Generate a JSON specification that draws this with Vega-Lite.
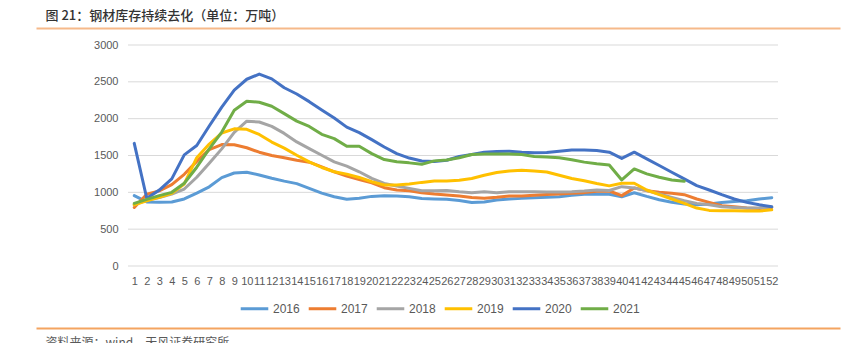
{
  "$schema": "https://vega.github.io/schema/vega-lite/v6.json",
  "width": 804,
  "height": 221,
  "autosize": {"type": "none"},
  "padding": {"left": 36, "top": 45, "right": 18, "bottom": 77},
  "background": "white",
  "config": {"view": {"stroke": null}, "font": "Liberation Sans"},
  "resolve": {"axis": {"x": "independent", "y": "independent"}},
  "layer": [
    {
      "data": {"values": [{"g": 500}, {"g": 1000}, {"g": 1500}, {"g": 2000}, {"g": 2500}, {"g": 3000}]},
      "mark": {"type": "rule", "color": "#D9D9D9", "strokeWidth": 1},
      "encoding": {
        "x": {"datum": 0.5, "type": "quantitative", "scale": {"domain": [-6.86, 57.46], "nice": false, "zero": false},
          "axis": {"orient": "bottom", "values": [1,2,3,4,5,6,7,8,9,10,11,12,13,14,15,16,17,18,19,20,21,22,23,24,25,26,27,28,29,30,31,32,33,34,35,36,37,38,39,40,41,42,43,44,45,46,47,48,49,50,51,52],
            "format": "d", "labelFontSize": 11, "labelColor": "#595959", "labelPadding": 9, "domain": false, "ticks": false, "tickSize": 0, "grid": false, "labelOverlap": false, "labelFlush": false, "title": null, "labelFont": "Liberation Sans"}},
        "x2": {"datum": 52.5},
        "y": {"field": "g", "type": "quantitative", "scale": {"domain": [0, 3000], "nice": false, "zero": true},
          "axis": {"orient": "left", "offset": -92, "values": [0, 500, 1000, 1500, 2000, 2500, 3000], "format": "d", "domain": false, "ticks": false, "tickSize": 0, "grid": false, "labelPadding": 10, "labelFontSize": 11, "labelColor": "#595959", "labelFont": "Liberation Sans", "labelFlush": false, "labelOverlap": false, "title": null}}
      }
    },
    {
      "data": {"values": [{"g": 0}]},
      "mark": {"type": "rule", "color": "#D9D9D9", "strokeWidth": 1},
      "encoding": {
        "x": {"datum": 0.5, "type": "quantitative", "scale": {"domain": [-6.86, 57.46], "nice": false, "zero": false},
          "axis": {"orient": "top", "offset": 17, "domainColor": "#F6B98A", "domainWidth": 2, "ticks": false, "labels": false, "grid": false,
            "title": "图 21：钢材库存持续去化（单位：万吨）", "titleX": 9, "titleY": -13, "titleAlign": "left", "titleBaseline": "middle",
            "titleFont": "Noto Sans CJK SC", "titleFontSize": 13, "titleFontWeight": 500, "titleColor": "#333333"}},
        "x2": {"datum": 52.5},
        "y": {"field": "g", "type": "quantitative", "scale": {"domain": [0, 3000], "nice": false, "zero": true}, "axis": null}
      }
    },
    {
      "data": {"values": [
        {"w":1,"y":"2016","v":955},{"w":2,"y":"2016","v":870},{"w":3,"y":"2016","v":864},{"w":4,"y":"2016","v":868},{"w":5,"y":"2016","v":910},{"w":6,"y":"2016","v":990},{"w":7,"y":"2016","v":1075},{"w":8,"y":"2016","v":1200},{"w":9,"y":"2016","v":1262},{"w":10,"y":"2016","v":1273},
        {"w":11,"y":"2016","v":1236},{"w":12,"y":"2016","v":1192},{"w":13,"y":"2016","v":1152},{"w":14,"y":"2016","v":1118},{"w":15,"y":"2016","v":1054},{"w":16,"y":"2016","v":990},{"w":17,"y":"2016","v":940},{"w":18,"y":"2016","v":905},{"w":19,"y":"2016","v":920},{"w":20,"y":"2016","v":945},
        {"w":21,"y":"2016","v":955},{"w":22,"y":"2016","v":950},{"w":23,"y":"2016","v":941},{"w":24,"y":"2016","v":915},{"w":25,"y":"2016","v":910},{"w":26,"y":"2016","v":905},{"w":27,"y":"2016","v":888},{"w":28,"y":"2016","v":862},{"w":29,"y":"2016","v":870},{"w":30,"y":"2016","v":895},
        {"w":31,"y":"2016","v":908},{"w":32,"y":"2016","v":918},{"w":33,"y":"2016","v":928},{"w":34,"y":"2016","v":932},{"w":35,"y":"2016","v":941},{"w":36,"y":"2016","v":959},{"w":37,"y":"2016","v":975},{"w":38,"y":"2016","v":977},{"w":39,"y":"2016","v":973},{"w":40,"y":"2016","v":940},
        {"w":41,"y":"2016","v":995},{"w":42,"y":"2016","v":945},{"w":43,"y":"2016","v":900},{"w":44,"y":"2016","v":866},{"w":45,"y":"2016","v":842},{"w":46,"y":"2016","v":832},{"w":47,"y":"2016","v":841},{"w":48,"y":"2016","v":862},{"w":49,"y":"2016","v":877},{"w":50,"y":"2016","v":886},{"w":51,"y":"2016","v":909},{"w":52,"y":"2016","v":928},

        {"w":1,"y":"2017","v":795},{"w":2,"y":"2017","v":975},{"w":3,"y":"2017","v":1020},{"w":4,"y":"2017","v":1105},{"w":5,"y":"2017","v":1245},{"w":6,"y":"2017","v":1420},{"w":7,"y":"2017","v":1580},{"w":8,"y":"2017","v":1648},{"w":9,"y":"2017","v":1645},{"w":10,"y":"2017","v":1605},
        {"w":11,"y":"2017","v":1545},{"w":12,"y":"2017","v":1500},{"w":13,"y":"2017","v":1470},{"w":14,"y":"2017","v":1436},{"w":15,"y":"2017","v":1409},{"w":16,"y":"2017","v":1346},{"w":17,"y":"2017","v":1279},{"w":18,"y":"2017","v":1220},{"w":19,"y":"2017","v":1175},{"w":20,"y":"2017","v":1130},
        {"w":21,"y":"2017","v":1063},{"w":22,"y":"2017","v":1031},{"w":23,"y":"2017","v":1022},{"w":24,"y":"2017","v":995},{"w":25,"y":"2017","v":977},{"w":26,"y":"2017","v":964},{"w":27,"y":"2017","v":950},{"w":28,"y":"2017","v":930},{"w":29,"y":"2017","v":920},{"w":30,"y":"2017","v":932},
        {"w":31,"y":"2017","v":950},{"w":32,"y":"2017","v":950},{"w":33,"y":"2017","v":962},{"w":34,"y":"2017","v":972},{"w":35,"y":"2017","v":978},{"w":36,"y":"2017","v":986},{"w":37,"y":"2017","v":996},{"w":38,"y":"2017","v":1015},{"w":39,"y":"2017","v":1018},{"w":40,"y":"2017","v":955},
        {"w":41,"y":"2017","v":1059},{"w":42,"y":"2017","v":1023},{"w":43,"y":"2017","v":1000},{"w":44,"y":"2017","v":986},{"w":45,"y":"2017","v":968},{"w":46,"y":"2017","v":909},{"w":47,"y":"2017","v":864},{"w":48,"y":"2017","v":818},{"w":49,"y":"2017","v":805},{"w":50,"y":"2017","v":786},{"w":51,"y":"2017","v":782},{"w":52,"y":"2017","v":795},

        {"w":1,"y":"2018","v":830},{"w":2,"y":"2018","v":895},{"w":3,"y":"2018","v":930},{"w":4,"y":"2018","v":977},{"w":5,"y":"2018","v":1045},{"w":6,"y":"2018","v":1205},{"w":7,"y":"2018","v":1395},{"w":8,"y":"2018","v":1590},{"w":9,"y":"2018","v":1815},{"w":10,"y":"2018","v":1965},
        {"w":11,"y":"2018","v":1955},{"w":12,"y":"2018","v":1895},{"w":13,"y":"2018","v":1800},{"w":14,"y":"2018","v":1684},{"w":15,"y":"2018","v":1594},{"w":16,"y":"2018","v":1504},{"w":17,"y":"2018","v":1414},{"w":18,"y":"2018","v":1355},{"w":19,"y":"2018","v":1279},{"w":20,"y":"2018","v":1189},
        {"w":21,"y":"2018","v":1121},{"w":22,"y":"2018","v":1085},{"w":23,"y":"2018","v":1054},{"w":24,"y":"2018","v":1022},{"w":25,"y":"2018","v":1022},{"w":26,"y":"2018","v":1025},{"w":27,"y":"2018","v":1008},{"w":28,"y":"2018","v":995},{"w":29,"y":"2018","v":1008},{"w":30,"y":"2018","v":995},
        {"w":31,"y":"2018","v":1008},{"w":32,"y":"2018","v":1008},{"w":33,"y":"2018","v":1008},{"w":34,"y":"2018","v":1004},{"w":35,"y":"2018","v":1004},{"w":36,"y":"2018","v":1008},{"w":37,"y":"2018","v":1017},{"w":38,"y":"2018","v":1031},{"w":39,"y":"2018","v":1025},{"w":40,"y":"2018","v":1077},
        {"w":41,"y":"2018","v":1059},{"w":42,"y":"2018","v":1023},{"w":43,"y":"2018","v":977},{"w":44,"y":"2018","v":932},{"w":45,"y":"2018","v":886},{"w":46,"y":"2018","v":850},{"w":47,"y":"2018","v":832},{"w":48,"y":"2018","v":805},{"w":49,"y":"2018","v":795},{"w":50,"y":"2018","v":786},{"w":51,"y":"2018","v":790},{"w":52,"y":"2018","v":800},

        {"w":1,"y":"2019","v":832},{"w":2,"y":"2019","v":886},{"w":3,"y":"2019","v":932},{"w":4,"y":"2019","v":986},{"w":5,"y":"2019","v":1114},{"w":6,"y":"2019","v":1470},{"w":7,"y":"2019","v":1655},{"w":8,"y":"2019","v":1805},{"w":9,"y":"2019","v":1862},{"w":10,"y":"2019","v":1855},
        {"w":11,"y":"2019","v":1786},{"w":12,"y":"2019","v":1682},{"w":13,"y":"2019","v":1600},{"w":14,"y":"2019","v":1504},{"w":15,"y":"2019","v":1414},{"w":16,"y":"2019","v":1337},{"w":17,"y":"2019","v":1279},{"w":18,"y":"2019","v":1247},{"w":19,"y":"2019","v":1202},{"w":20,"y":"2019","v":1144},
        {"w":21,"y":"2019","v":1099},{"w":22,"y":"2019","v":1099},{"w":23,"y":"2019","v":1112},{"w":24,"y":"2019","v":1135},{"w":25,"y":"2019","v":1153},{"w":26,"y":"2019","v":1155},{"w":27,"y":"2019","v":1165},{"w":28,"y":"2019","v":1187},{"w":29,"y":"2019","v":1232},{"w":30,"y":"2019","v":1268},
        {"w":31,"y":"2019","v":1290},{"w":32,"y":"2019","v":1299},{"w":33,"y":"2019","v":1290},{"w":34,"y":"2019","v":1277},{"w":35,"y":"2019","v":1232},{"w":36,"y":"2019","v":1187},{"w":37,"y":"2019","v":1156},{"w":38,"y":"2019","v":1120},{"w":39,"y":"2019","v":1088},{"w":40,"y":"2019","v":1123},
        {"w":41,"y":"2019","v":1123},{"w":42,"y":"2019","v":1032},{"w":43,"y":"2019","v":968},{"w":44,"y":"2019","v":909},{"w":45,"y":"2019","v":850},{"w":46,"y":"2019","v":786},{"w":47,"y":"2019","v":755},{"w":48,"y":"2019","v":750},{"w":49,"y":"2019","v":750},{"w":50,"y":"2019","v":745},{"w":51,"y":"2019","v":745},{"w":52,"y":"2019","v":762},

        {"w":1,"y":"2020","v":1665},{"w":2,"y":"2020","v":920},{"w":3,"y":"2020","v":1030},{"w":4,"y":"2020","v":1182},{"w":5,"y":"2020","v":1508},{"w":6,"y":"2020","v":1635},{"w":7,"y":"2020","v":1900},{"w":8,"y":"2020","v":2157},{"w":9,"y":"2020","v":2388},{"w":10,"y":"2020","v":2535},
        {"w":11,"y":"2020","v":2605},{"w":12,"y":"2020","v":2540},{"w":13,"y":"2020","v":2420},{"w":14,"y":"2020","v":2335},{"w":15,"y":"2020","v":2231},{"w":16,"y":"2020","v":2118},{"w":17,"y":"2020","v":2010},{"w":18,"y":"2020","v":1885},{"w":19,"y":"2020","v":1810},{"w":20,"y":"2020","v":1715},
        {"w":21,"y":"2020","v":1615},{"w":22,"y":"2020","v":1526},{"w":23,"y":"2020","v":1465},{"w":24,"y":"2020","v":1425},{"w":25,"y":"2020","v":1420},{"w":26,"y":"2020","v":1436},{"w":27,"y":"2020","v":1487},{"w":28,"y":"2020","v":1513},{"w":29,"y":"2020","v":1545},{"w":30,"y":"2020","v":1554},
        {"w":31,"y":"2020","v":1558},{"w":32,"y":"2020","v":1545},{"w":33,"y":"2020","v":1536},{"w":34,"y":"2020","v":1540},{"w":35,"y":"2020","v":1558},{"w":36,"y":"2020","v":1576},{"w":37,"y":"2020","v":1576},{"w":38,"y":"2020","v":1567},{"w":39,"y":"2020","v":1545},{"w":40,"y":"2020","v":1460},
        {"w":41,"y":"2020","v":1545},{"w":42,"y":"2020","v":1455},{"w":43,"y":"2020","v":1364},{"w":44,"y":"2020","v":1273},{"w":45,"y":"2020","v":1182},{"w":46,"y":"2020","v":1091},{"w":47,"y":"2020","v":1032},{"w":48,"y":"2020","v":968},{"w":49,"y":"2020","v":909},{"w":50,"y":"2020","v":864},{"w":51,"y":"2020","v":832},{"w":52,"y":"2020","v":805},

        {"w":1,"y":"2021","v":850},{"w":2,"y":"2021","v":905},{"w":3,"y":"2021","v":955},{"w":4,"y":"2021","v":1000},{"w":5,"y":"2021","v":1123},{"w":6,"y":"2021","v":1341},{"w":7,"y":"2021","v":1591},{"w":8,"y":"2021","v":1818},{"w":9,"y":"2021","v":2114},{"w":10,"y":"2021","v":2236},
        {"w":11,"y":"2021","v":2223},{"w":12,"y":"2021","v":2168},{"w":13,"y":"2021","v":2068},{"w":14,"y":"2021","v":1967},{"w":15,"y":"2021","v":1895},{"w":16,"y":"2021","v":1787},{"w":17,"y":"2021","v":1729},{"w":18,"y":"2021","v":1625},{"w":19,"y":"2021","v":1625},{"w":20,"y":"2021","v":1526},
        {"w":21,"y":"2021","v":1445},{"w":22,"y":"2021","v":1414},{"w":23,"y":"2021","v":1400},{"w":24,"y":"2021","v":1382},{"w":25,"y":"2021","v":1427},{"w":26,"y":"2021","v":1440},{"w":27,"y":"2021","v":1469},{"w":28,"y":"2021","v":1513},{"w":29,"y":"2021","v":1522},{"w":30,"y":"2021","v":1522},
        {"w":31,"y":"2021","v":1522},{"w":32,"y":"2021","v":1513},{"w":33,"y":"2021","v":1487},{"w":34,"y":"2021","v":1478},{"w":35,"y":"2021","v":1469},{"w":36,"y":"2021","v":1442},{"w":37,"y":"2021","v":1410},{"w":38,"y":"2021","v":1388},{"w":39,"y":"2021","v":1372},{"w":40,"y":"2021","v":1168},
        {"w":41,"y":"2021","v":1318},{"w":42,"y":"2021","v":1250},{"w":43,"y":"2021","v":1205},{"w":44,"y":"2021","v":1168},{"w":45,"y":"2021","v":1150}
      ]},
      "mark": {"type": "line", "strokeWidth": 3, "strokeJoin": "round", "strokeCap": "round"},
      "encoding": {
        "x": {"field": "w", "type": "quantitative", "scale": {"domain": [-6.86, 57.46], "nice": false, "zero": false},
          "axis": {"orient": "bottom", "offset": 62, "domainColor": "#F4A460", "domainWidth": 2, "ticks": false, "labels": false, "grid": false,
            "title": "资料来源：wind，天风证券研究所", "titleX": 9, "titleY": 14, "titleAlign": "left", "titleBaseline": "middle",
            "titleFont": "Noto Sans CJK SC", "titleFontSize": 12, "titleFontWeight": "normal", "titleColor": "#595959"}},
        "y": {"field": "v", "type": "quantitative", "scale": {"domain": [0, 3000], "nice": false, "zero": true}, "axis": null},
        "color": {"field": "y", "type": "nominal",
          "scale": {"domain": ["2016", "2017", "2018", "2019", "2020", "2021"], "range": ["#5B9BD5", "#ED7D31", "#A5A5A5", "#FFC000", "#4472C4", "#70AD47"]},
          "legend": {"orient": "none", "legendX": 203, "legendY": 248, "direction": "horizontal", "title": null,
            "symbolType": "stroke", "symbolStrokeWidth": 3, "symbolSize": 760, "labelFontSize": 12, "labelColor": "#595959",
            "labelOffset": 3, "columnPadding": 2, "labelFont": "Liberation Sans"}}
      }
    }
  ]
}
